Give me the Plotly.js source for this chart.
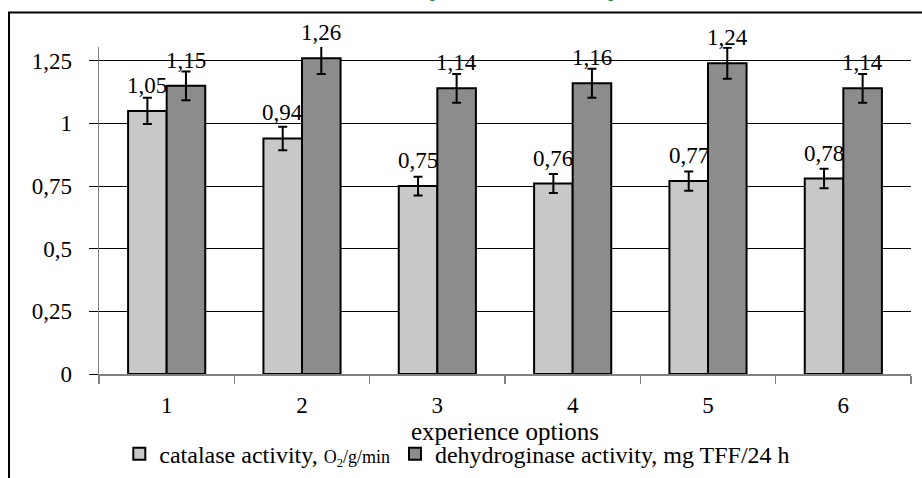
<!DOCTYPE html>
<html>
<head>
<meta charset="utf-8">
<script src="https://cdn.plot.ly/plotly-3.0.1.min.js"></script>
<style>
html,body{margin:0;padding:0;background:#fff;}
#chart{width:922px;height:478px;}
</style>
</head>
<body>
<div id="chart"></div>
<script>
const categories = ['1', '2', '3', '4', '5', '6'];
const catalase = [1.05, 0.94, 0.75, 0.76, 0.77, 0.78];
const dehydrogenase = [1.15, 1.26, 1.14, 1.16, 1.24, 1.14];
const errorPercent = 5;
const seriesNames = ['catalase activity, <span style="font-size:18px">O<sub>2</sub>/g/min</span>',
                     'dehydroginase activity, mg TFF/24 h'];
const yTicks = [0, 0.25, 0.5, 0.75, 1, 1.25];
const headerText = 'Варианты опыта – вариант 2';

const FONT = '"Liberation Serif"';
const BARGAP = 0.43;

function barTrace(vals, name, color) {
  return {
    type: 'bar', x: categories, y: vals, name: name,
    marker: {color: color, line: {color: '#000', width: 2}},
    error_y: {type: 'percent', value: errorPercent, visible: true, color: '#000', thickness: 2, width: 4.5},
    hoverinfo: 'none'
  };
}

const traces = [
  barTrace(catalase, seriesNames[0], '#c8c8c8'),
  barTrace(dehydrogenase, seriesNames[1], '#8c8c8c')
];

const annotations = [];
[catalase, dehydrogenase].forEach((vals, s) => {
  const off = (s === 0 ? -1 : 1) * (1 - BARGAP) / 4;
  vals.forEach((v, i) => {
    annotations.push({
      xref: 'x', yref: 'y', x: i + off, y: v,
      text: v.toFixed(2).replace('.', ','),
      showarrow: false, xanchor: 'center', yanchor: 'bottom', yshift: 11,
      font: {family: FONT, size: 23, color: '#000'}
    });
  });
});
annotations.push({
  xref: 'paper', yref: 'paper', x: 0.7217, y: 1.135, xanchor: 'right', yanchor: 'bottom',
  text: '<i>' + headerText + '</i>', showarrow: false,
  font: {family: FONT, size: 21, color: '#1b7340'}
});

const layout = {
  width: 922, height: 478,
  margin: {l: 99, r: 11, t: 47, b: 104, autoexpand: false},
  paper_bgcolor: '#fff', plot_bgcolor: '#fff',
  font: {family: FONT, color: '#000'},
  separators: ', ',
  barmode: 'group', bargap: BARGAP, bargroupgap: 0,
  showlegend: true,
  legend: {
    orientation: 'h', x: 0.025, xanchor: 'left', y: -0.245, yanchor: 'middle',
    font: {family: FONT, size: 24, color: '#000'}, traceorder: 'normal',
    bgcolor: 'rgba(0,0,0,0)'
  },
  xaxis: {
    type: 'category', showline: true, linecolor: '#808080', linewidth: 1.5,
    ticks: 'outside', tickson: 'boundaries', ticklen: 8, tickcolor: '#808080', tickwidth: 1.2,
    ticklabelstandoff: 10, automargin: false,
    tickfont: {family: FONT, size: 23, color: '#000'},
    showgrid: false, zeroline: false,
    title: {text: 'experience options', font: {family: FONT, size: 25, color: '#000'}, standoff: 0}
  },
  yaxis: {
    range: [0, 1.305], tickvals: yTicks,
    showline: true, linecolor: '#808080', linewidth: 1.5,
    ticks: 'outside', ticklen: 9, tickcolor: '#000', tickwidth: 1,
    ticklabelstandoff: 12, automargin: false,
    tickfont: {family: FONT, size: 23, color: '#000'},
    showgrid: true, gridcolor: '#000', gridwidth: 1, zeroline: false
  },
  annotations: annotations,
  shapes: [{
    type: 'rect', xref: 'paper', yref: 'paper',
    x0: -0.1108, x1: 1.02, y0: -0.33, y1: 1.1055,
    line: {color: '#000', width: 2}, fillcolor: 'rgba(0,0,0,0)', layer: 'above'
  }]
};

Plotly.newPlot('chart', traces, layout, {staticPlot: true, displayModeBar: false});
</script>
</body>
</html>
